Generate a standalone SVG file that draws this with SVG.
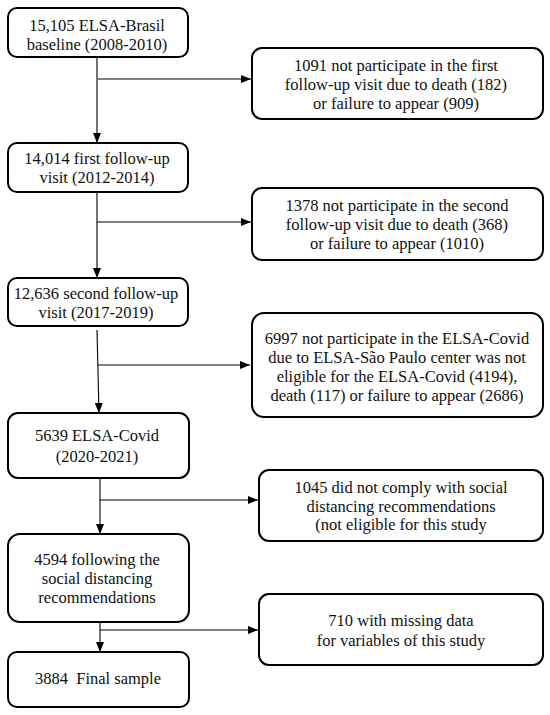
<svg xmlns="http://www.w3.org/2000/svg" width="550" height="715" viewBox="0 0 550 715">
<style>
.box{fill:#fff;stroke:#000;stroke-width:2}
.t{font-family:"Liberation Serif","Times New Roman",serif;font-size:16.5px;fill:#111;text-anchor:middle}
.c{stroke:#000;stroke-width:1.1;fill:none}
</style>
<defs>
<marker id="ah" viewBox="0 0 10 8" refX="10" refY="4" markerWidth="10" markerHeight="8" markerUnits="userSpaceOnUse" orient="auto">
<path d="M0,0 L10,4 L0,8 Z" fill="#000"/>
</marker>
</defs>
<rect width="550" height="715" fill="#fff"/>
<g id="connectors">
<line class="c" x1="97" y1="57" x2="97" y2="143" marker-end="url(#ah)"/>
<line class="c" x1="98" y1="79" x2="251" y2="79" marker-end="url(#ah)"/>
<line class="c" x1="97" y1="192" x2="97" y2="278" marker-end="url(#ah)"/>
<line class="c" x1="97" y1="222" x2="251" y2="222" marker-end="url(#ah)"/>
<line class="c" x1="97" y1="330" x2="99" y2="413" marker-end="url(#ah)"/>
<line class="c" x1="98" y1="365" x2="250" y2="365" marker-end="url(#ah)"/>
<line class="c" x1="100" y1="478" x2="100" y2="534" marker-end="url(#ah)"/>
<line class="c" x1="100" y1="500" x2="258" y2="500" marker-end="url(#ah)"/>
<line class="c" x1="100" y1="610" x2="100" y2="652" marker-end="url(#ah)"/>
<line class="c" x1="100" y1="630" x2="258" y2="630" marker-end="url(#ah)"/>
</g>
<g id="n1">
<rect class="box" x="8" y="8" width="180" height="49" rx="9"/>
<text class="t" x="97" y="30.5">15,105 ELSA-Brasil</text>
<text class="t" x="97" y="49.5">baseline (2008-2010)</text>
</g>
<g id="r1">
<rect class="box" x="252" y="48" width="291" height="71" rx="10"/>
<text class="t" x="396" y="70.5">1091 not participate in the first</text>
<text class="t" x="396" y="89.5">follow-up visit due to death (182)</text>
<text class="t" x="396" y="108.5">or failure to appear (909)</text>
</g>
<g id="n2">
<rect class="box" x="8" y="143" width="180" height="49" rx="9"/>
<text class="t" x="97" y="163.5">14,014 first follow-up</text>
<text class="t" x="97" y="182.5">visit (2012-2014)</text>
</g>
<g id="r2">
<rect class="box" x="252" y="188" width="291" height="72" rx="10"/>
<text class="t" x="397" y="210.5">1378 not participate in the second</text>
<text class="t" x="397" y="229.5">follow-up visit due to death (368)</text>
<text class="t" x="397" y="248.5">or failure to appear (1010)</text>
</g>
<g id="n3">
<rect class="box" x="8" y="278" width="180" height="48" rx="9"/>
<text class="t" x="96" y="298.5">12,636 second follow-up</text>
<text class="t" x="96" y="317.5">visit (2017-2019)</text>
</g>
<g id="r3">
<rect class="box" x="252" y="313" width="291" height="104" rx="12"/>
<text class="t" x="397" y="343.5">6997 not participate in the ELSA-Covid</text>
<text class="t" x="397" y="362.5">due to ELSA-São Paulo center was not</text>
<text class="t" x="397" y="381.5">eligible for the ELSA-Covid (4194),</text>
<text class="t" x="397" y="400.5">death (117) or failure to appear (2686)</text>
</g>
<g id="n4">
<rect class="box" x="8" y="413" width="181" height="65" rx="10"/>
<text class="t" x="97" y="440.5">5639 ELSA-Covid</text>
<text class="t" x="97" y="461.5">(2020-2021)</text>
</g>
<g id="r4">
<rect class="box" x="259" y="470" width="284" height="71" rx="10"/>
<text class="t" x="401" y="492.5">1045 did not comply with social</text>
<text class="t" x="401" y="511.5">distancing recommendations</text>
<text class="t" x="401" y="529.5">(not eligible for this study</text>
</g>
<g id="n5">
<rect class="box" x="8" y="534" width="181" height="88" rx="12"/>
<text class="t" x="97" y="564.5">4594 following the</text>
<text class="t" x="97" y="583.5">social distancing</text>
<text class="t" x="97" y="602.5">recommendations</text>
</g>
<g id="r5">
<rect class="box" x="259" y="594" width="284" height="71" rx="10"/>
<text class="t" x="401" y="625.5">710 with missing data</text>
<text class="t" x="401" y="645.5">for variables of this study</text>
</g>
<g id="n6">
<rect class="box" x="8" y="652" width="181" height="55" rx="9"/>
<text class="t" x="98" y="683.5">3884&#160; Final sample</text>
</g>
</svg>
